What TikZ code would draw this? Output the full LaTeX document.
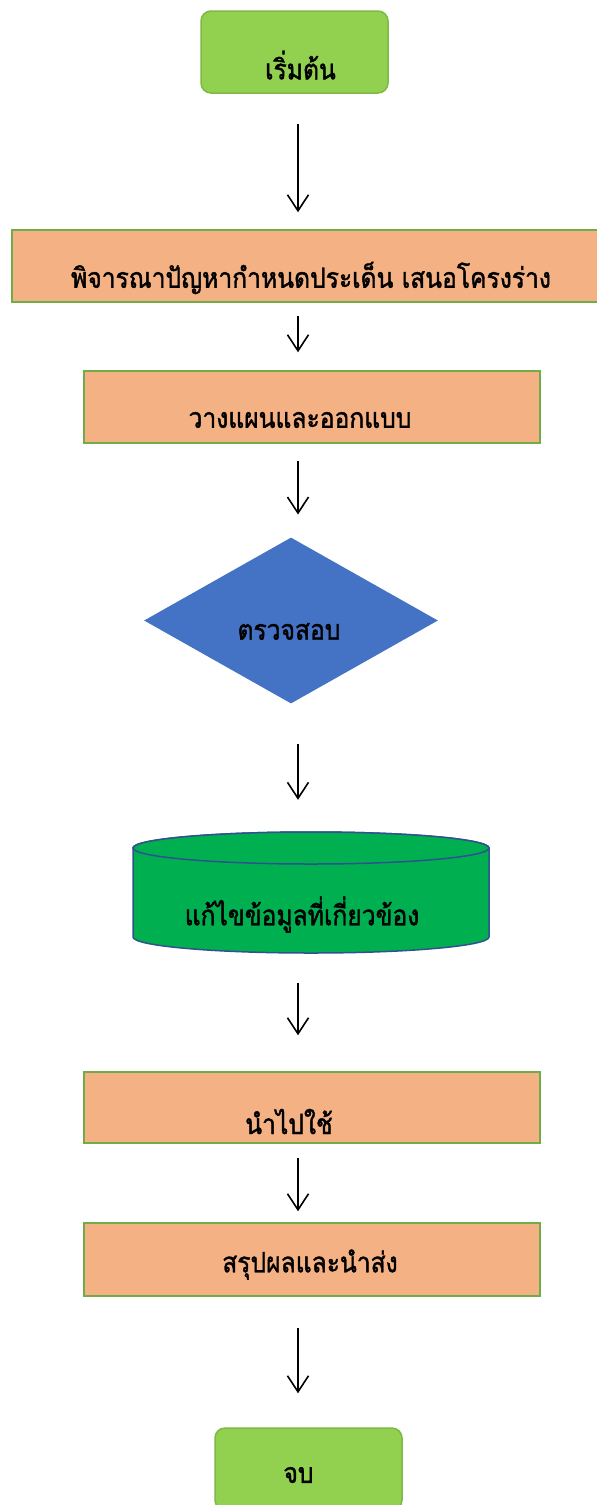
\documentclass[tikz,border=0pt]{standalone}
\usepackage{fontspec}
\newfontfamily\thaifont[Script=Thai, FakeStretch=0.88, FakeBold=1.4]{Loma}
\usetikzlibrary{arrows.meta,shapes.geometric}
\definecolor{limegreen}{HTML}{92D050}
\definecolor{limeedge}{HTML}{7DB944}
\definecolor{peach}{HTML}{F4B183}
\definecolor{leafedge}{HTML}{70AD47}
\definecolor{royal}{HTML}{4472C4}
\definecolor{emerald}{HTML}{00B050}
\definecolor{navyedge}{HTML}{2F528F}
% move a label inside its shape: dx, dy (down), text
\newcommand\nudge[3]{\raisebox{-#2}[\height][\depth]{\makebox[0pt]{\hspace*{#1}\hspace*{#1}#3}}}
\tikzset{
  every node/.style={font=\thaifont\fontsize{28}{32}\selectfont, text=black, inner sep=0pt},
  terminal/.style={draw=limeedge, fill=limegreen, line width=1.5pt, rounded corners=10pt,
    minimum width=187pt, minimum height=82pt},
  procbox/.style={draw=leafedge, fill=peach, line width=1.5pt,
    minimum width=456pt, minimum height=72pt},
  drum/.style={draw=navyedge, fill=emerald, line width=1.5pt},
  arr/.style={line width=1.6pt, -{Straight Barb[length=16pt,width=21pt,line width=1.6pt]}}
}
\begin{document}
\begin{tikzpicture}[x=1pt,y=-1pt]
            \useasboundingbox (0,0) rectangle (597,1505);
            \clip (0,0) rectangle (597,1505);
            \coordinate (axis) at (298,0);

            % the drum, drawn under its label
            \draw[drum] (133,848) -- (133,937) arc[start angle=180, end angle=360, x radius=178pt, y radius=16pt]
                -- (489,848) arc[start angle=0, end angle=180, x radius=178pt, y radius=16pt] -- cycle;
            \draw[drum] (311,848) ellipse[x radius=178pt, y radius=16pt];

            \node[terminal] (start) at (294.5,52) {\nudge{6pt}{13pt}{เริ่มต้น}};
            \node[procbox, minimum width=598pt] (problem) at (311,266) {\nudge{0pt}{12pt}{พิจารณาปัญหากำหนดประเด็น เสนอโครงร่าง}};
            \node[procbox] (plan) at (312,407) {\nudge{-12pt}{13pt}{วางแผนและออกแบบ}};
            \node[diamond, draw=royal, fill=royal, line width=1pt, aspect=1.77,
                  minimum width=292pt, minimum height=165pt] (check) at (291,620.5) {\nudge{-2pt}{11pt}{ตรวจสอบ}};
            \node[minimum width=356pt, minimum height=121pt] (edit) at (311,892.5) {\nudge{-9pt}{22pt}{แก้ไขข้อมูลที่เกี่ยวข้อง}};
            \node[procbox, minimum height=71pt] (use) at (312,1107.5) {\nudge{-23pt}{14pt}{นำไปใช้}};
            \node[procbox, minimum height=73pt] (summary) at (312,1259.5) {\nudge{-2pt}{5pt}{สรุปผลและนำส่ง}};
            \node[terminal] (stop) at (308.5,1469) {\nudge{-10pt}{6pt}{จบ}};

            \draw[arr, shorten <=30pt, shorten >=17pt] (start.south -| axis) -- (problem.north -| axis);
            \draw[arr, shorten <=13pt, shorten >=18pt] (problem.south -| axis) -- (plan.north -| axis);
            \draw[arr, shorten <=17pt, shorten >=23pt] (plan.south -| axis) -- (check.north -| axis);
            \draw[arr, shorten <=40pt, shorten >=32pt] (check.south -| axis) -- (edit.north -| axis);
            \draw[arr, shorten <=30pt, shorten >=36pt] (edit.south -| axis) -- (use.north -| axis);
            \draw[arr, shorten <=14pt, shorten >=11pt] (use.south -| axis) -- (summary.north -| axis);
            \draw[arr, shorten <=31pt, shorten >=34pt] (summary.south -| axis) -- (stop.north -| axis);
        \end{tikzpicture}
\end{document}
